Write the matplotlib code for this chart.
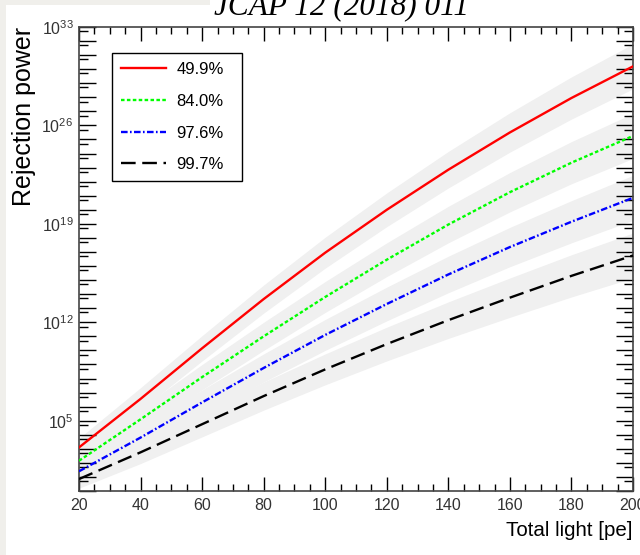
"""Rejection power vs total light for several signal acceptances."""

import matplotlib

matplotlib.use("Agg")

import matplotlib.pyplot as plt
import numpy as np
from matplotlib.patches import Rectangle
from matplotlib.ticker import FixedLocator, FuncFormatter

plt.rcParams["font.family"] = ["Liberation Sans", "DejaVu Sans"]
plt.rcParams["mathtext.fontset"] = "custom"
plt.rcParams["mathtext.rm"] = "Liberation Sans"
plt.rcParams["mathtext.it"] = "Liberation Sans:italic"

# total light [pe]
light = [20, 40, 60, 80, 100, 120, 140, 160, 180, 200]

# log10 of the rejection power for each acceptance
log_rej_499 = [3.1, 6.55, 10.15, 13.65, 16.95, 20.0, 22.85, 25.5, 27.95, 30.2]
log_rej_840 = [2.15, 5.1, 8.1, 11.0, 13.8, 16.45, 18.95, 21.25, 23.35, 25.25]
log_rej_976 = [1.4, 3.8, 6.3, 8.75, 11.1, 13.3, 15.4, 17.35, 19.15, 20.85]
log_rej_997 = [0.85, 2.75, 4.75, 6.75, 8.65, 10.45, 12.15, 13.75, 15.3, 16.75]

# half width of the uncertainty band, in decades
band_halfwidth = [0.65, 0.8, 0.9, 1.0, 1.1, 1.2, 1.3, 1.4, 1.5, 1.6]

labels = ["49.9%", "84.0%", "97.6%", "99.7%"]
y_label_exps = [5, 12, 19, 26, 33]


def main() -> None:
    fig = plt.figure(figsize=(6.4, 5.55), dpi=100)
    fig.patch.set_facecolor("#f0efeb")
    fig.add_artist(Rectangle((6 / 640, 0), 1, (555 - 5) / 555,
                             transform=fig.transFigure, facecolor="white",
                             edgecolor="none", zorder=-10))
    fig.add_artist(Rectangle((210 / 640, (555 - 5) / 555), 1, 1,
                             transform=fig.transFigure, facecolor="white",
                             edgecolor="none", zorder=-10))

    ax = fig.add_axes([79 / 640, 64 / 555, 554 / 640, 464 / 555])

    x = np.asarray(light, dtype=float)
    hw = np.asarray(band_halfwidth)
    series = [
        (log_rej_499, dict(color="#ff0000", linestyle="-")),
        (log_rej_840, dict(color="#00ff00", linestyle=(0, (1.5, 1.0)))),
        (log_rej_976, dict(color="#0000ff", linestyle=(0, (2.8, 1.0, 0.7, 1.0)))),
        (log_rej_997, dict(color="black", linestyle=(0, (6.2, 2.8)))),
    ]

    for vals, _ in series:
        v = np.asarray(vals)
        ax.fill_between(x, 10 ** (v - hw), 10 ** (v + hw),
                        color="#f0f0f0", linewidth=0, zorder=1)

    handles = []
    for (vals, style), lab in zip(series, labels):
        line, = ax.plot(x, 10 ** np.asarray(vals), linewidth=1.7,
                        zorder=3, label=lab, **style)
        handles.append(line)

    ax.set_yscale("log")
    ax.set_xlim(20, 200)
    ax.set_ylim(1, 1e33)

    ax.xaxis.set_major_locator(FixedLocator(np.arange(20, 201, 20)))
    ax.xaxis.set_minor_locator(FixedLocator(np.arange(20, 201, 5)))
    ax.yaxis.set_major_locator(FixedLocator([10.0 ** k for k in range(0, 34)]))
    ax.yaxis.set_minor_locator(FixedLocator([5 * 10.0 ** k for k in range(0, 33)]))

    def ylab(val, pos):
        e = int(round(np.log10(val)))
        if e in y_label_exps:
            return r"$\mathregular{10^{%d}}$" % e
        return ""

    ax.yaxis.set_major_formatter(FuncFormatter(ylab))
    ax.yaxis.set_minor_formatter(FuncFormatter(lambda v, p: ""))

    ax.tick_params(axis="both", which="both", direction="in",
                   top=True, right=True, color="black", width=1)
    ax.tick_params(axis="x", which="major", length=10, labelsize=11.5,
                   pad=5, labelcolor="#333333")
    ax.tick_params(axis="x", which="minor", length=5)
    ax.tick_params(axis="y", which="major", length=12, labelsize=11.5,
                   pad=4, labelcolor="#333333")
    ax.tick_params(axis="y", which="minor", length=6.5)
    for sp in ax.spines.values():
        sp.set_linewidth(1.2)
        sp.set_color("#444444")

    leg = ax.legend(handles=handles, labels=labels, loc="upper left",
                    bbox_to_anchor=(33 / 554, 438 / 464, 130 / 554, 0.0),
                    mode="expand", frameon=True, fancybox=False,
                    edgecolor="black", framealpha=1, fontsize=12,
                    handlelength=2.7, handletextpad=0.6,
                    labelspacing=1.0, borderpad=0.55, borderaxespad=0)
    leg.get_frame().set_linewidth(1.0)
    leg.set_zorder(5)

    fig.text(633 / 640, (555 - 531) / 555, "Total light [pe]", fontsize=14.8,
             ha="right", va="center")
    fig.text(24 / 640, (555 - 27) / 555, "Rejection power", fontsize=18,
             rotation=90, ha="center", va="top")
    fig.text(341 / 640, (555 - 14) / 555, "JCAP 12 (2018) 011",
             family="Liberation Serif", style="italic", fontsize=22.5,
             ha="center", va="baseline")

    fig.savefig("out.png", dpi=100)


if __name__ == "__main__":
    main()
